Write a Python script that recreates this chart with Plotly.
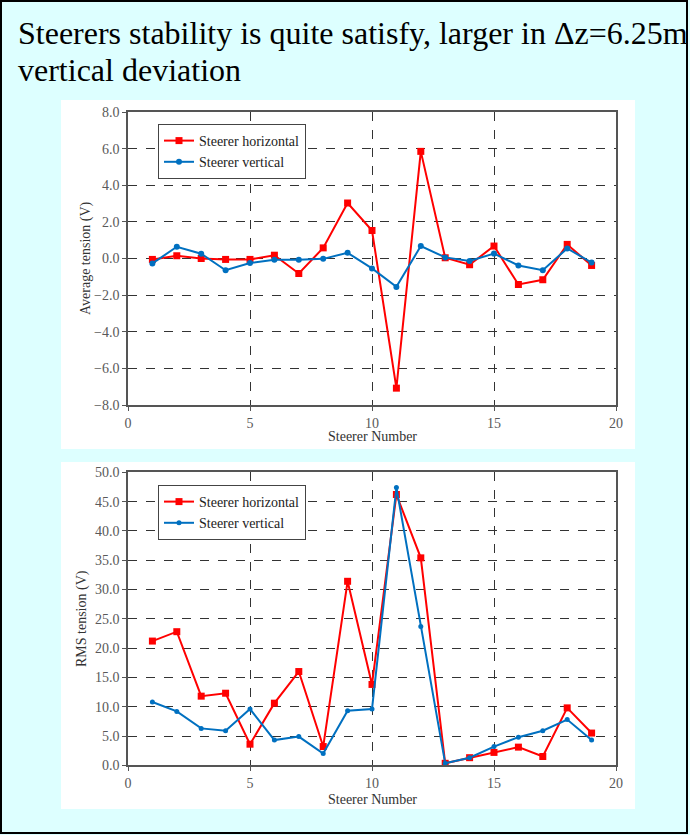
import plotly.graph_objects as go

steerers = list(range(1, 20))
avg_horizontal = [-0.05, 0.15, 0.0, -0.05, -0.05, 0.18, -0.82, 0.58, 3.03, 1.53,
                  -7.08, 5.85, 0.04, -0.34, 0.68, -1.42, -1.16, 0.77, -0.38]
avg_vertical = [-0.27, 0.64, 0.26, -0.64, -0.25, -0.07, -0.07, -0.02, 0.31, -0.54,
                -1.55, 0.68, 0.06, -0.14, 0.27, -0.38, -0.64, 0.55, -0.22]
rms_horizontal = [21.2, 22.8, 11.8, 12.3, 3.6, 10.6, 16.0, 3.2, 31.4, 13.8,
                  46.2, 35.4, 0.34, 1.3, 2.2, 3.1, 1.5, 9.8, 5.5]
rms_vertical = [10.8, 9.2, 6.3, 5.9, 9.6, 4.3, 4.9, 2.0, 9.3, 9.6,
                47.4, 23.7, 0.34, 1.3, 3.2, 4.8, 5.9, 7.8, 4.3]
x_ticks = [0, 5, 10, 15, 20]
title_lines = ["Steerers stability is quite satisfy, larger in Δz=6.25m", "vertical deviation"]

W, H = 690, 835
RED = "#FF0000"
BLUE = "#0070C0"
SERIF = "Liberation Serif, Times New Roman, serif"
BG = "#DDFFFF"

def px(x):
    return x / W

def py(y):
    return 1 - y / H

fig = go.Figure()

fig.add_trace(go.Scatter(x=steerers, y=avg_horizontal, name="Steerer horizontal",
                         mode="lines+markers", line=dict(color=RED, width=2),
                         marker=dict(symbol="square", size=7, color=RED),
                         xaxis="x", yaxis="y", legend="legend"))
fig.add_trace(go.Scatter(x=steerers, y=avg_vertical, name="Steerer vertical",
                         mode="lines+markers", line=dict(color=BLUE, width=2),
                         marker=dict(symbol="circle", size=6, color=BLUE),
                         xaxis="x", yaxis="y", legend="legend"))
fig.add_trace(go.Scatter(x=steerers, y=rms_horizontal, name="Steerer horizontal",
                         mode="lines+markers", line=dict(color=RED, width=2),
                         marker=dict(symbol="square", size=7, color=RED),
                         xaxis="x2", yaxis="y2", legend="legend2"))
fig.add_trace(go.Scatter(x=steerers, y=rms_vertical, name="Steerer vertical",
                         mode="lines+markers", line=dict(color=BLUE, width=2),
                         marker=dict(symbol="circle", size=5, color=BLUE),
                         xaxis="x2", yaxis="y2", legend="legend2"))

xdom = [px(128), px(616)]
axis_common = dict(showline=True, linecolor="#555555", linewidth=1.5, mirror=True,
                   showgrid=True, gridcolor="#333333", griddash="dash", gridwidth=1,
                   zeroline=False, automargin=False,
                   tickfont=dict(family=SERIF, size=14, color="#595959"),
                   ticks="outside", ticklen=4, tickcolor="#555555")

legend_common = dict(xanchor="left", yanchor="top",
                     bgcolor="white", bordercolor="#444444", borderwidth=1,
                     font=dict(family=SERIF, size=14, color="#222222"),
                     itemwidth=30, tracegroupgap=0)

fig.update_layout(
    width=W, height=H,
    margin=dict(l=0, r=0, t=0, b=0, pad=0, autoexpand=False),
    paper_bgcolor=BG,
    plot_bgcolor="white",
    xaxis=dict(domain=xdom, anchor="y", range=[0, 20], tickvals=x_ticks, **axis_common),
    yaxis=dict(domain=[py(405), py(112)], anchor="x", range=[-8, 8], dtick=2,
               tickformat=".1f", **axis_common),
    xaxis2=dict(domain=xdom, anchor="y2", range=[0, 20], tickvals=x_ticks, **axis_common),
    yaxis2=dict(domain=[py(765.3), py(472.3)], anchor="x2", range=[0, 50], dtick=5,
                tickformat=".1f", **axis_common),
    legend=dict(x=px(158), y=py(124), **legend_common),
    legend2=dict(x=px(158), y=py(485), **legend_common),
    showlegend=True,
)

shapes = [
    dict(type="rect", xref="paper", yref="paper", x0=px(61), x1=px(635),
         y0=py(449), y1=py(100), fillcolor="white", line=dict(width=0), layer="below"),
    dict(type="rect", xref="paper", yref="paper", x0=px(61), x1=px(635),
         y0=py(809), y1=py(462), fillcolor="white", line=dict(width=0), layer="below"),
    dict(type="rect", xref="paper", yref="paper", x0=px(1), x1=px(687),
         y0=py(833), y1=py(1), fillcolor="rgba(0,0,0,0)", line=dict(color="black", width=2)),
]
fig.update_layout(shapes=shapes)

annotations = [
    dict(text=title_lines[0], xref="paper", yref="paper", x=px(16), y=py(32.5),
         xanchor="left", yanchor="middle", showarrow=False,
         font=dict(family=SERIF, size=32, color="black")),
    dict(text=title_lines[1], xref="paper", yref="paper", x=px(16), y=py(70),
         xanchor="left", yanchor="middle", showarrow=False,
         font=dict(family=SERIF, size=32, color="black")),
    dict(text="Average tension (V)", xref="paper", yref="paper", x=px(86), y=py(258),
         textangle=-90, showarrow=False, xanchor="center", yanchor="middle",
         font=dict(family=SERIF, size=14, color="#333333")),
    dict(text="Steerer Number", xref="paper", yref="paper", x=px(372), y=py(437),
         showarrow=False, xanchor="center", yanchor="middle",
         font=dict(family=SERIF, size=14, color="#333333")),
    dict(text="RMS tension (V)", xref="paper", yref="paper", x=px(82), y=py(619),
         textangle=-90, showarrow=False, xanchor="center", yanchor="middle",
         font=dict(family=SERIF, size=14, color="#333333")),
    dict(text="Steerer Number", xref="paper", yref="paper", x=px(372), y=py(799),
         showarrow=False, xanchor="center", yanchor="middle",
         font=dict(family=SERIF, size=14, color="#333333")),
]
fig.update_layout(annotations=annotations)

fig.write_html("out.html", config={"displayModeBar": False},
               post_script="document.body.style.margin='0';document.body.style.overflow='hidden';"
                           "document.body.style.background='" + BG + "';")
